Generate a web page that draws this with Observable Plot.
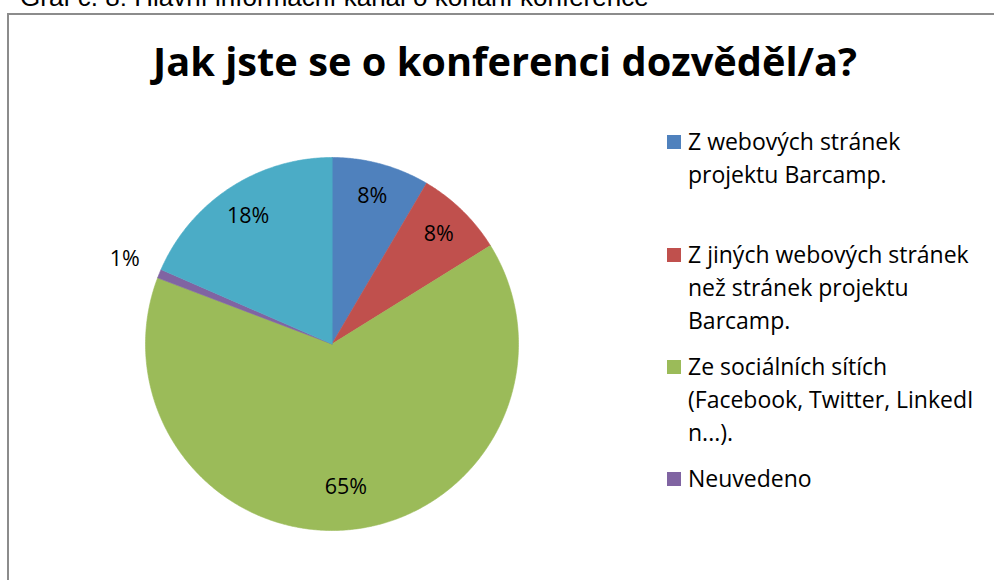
<!DOCTYPE html>
<html>
<head>
<meta charset="utf-8">
<script src="https://cdn.jsdelivr.net/npm/d3@7"></script>
<script src="https://cdn.jsdelivr.net/npm/@observablehq/plot@0.6"></script>
<style>
  html, body { margin: 0; padding: 0; background: #fff; width: 994px; height: 580px; overflow: hidden; position: relative; }
  .caption { position: absolute; left: 20px; top: -16px; font: 26px "Liberation Sans", Arial, sans-serif; line-height: 26px; color: #000; white-space: nowrap; }
  .box { position: absolute; left: 7px; top: 13px; width: 1000px; height: 600px; border-left: 2.5px solid #8c8c8c; border-top: 2.5px solid #8c8c8c; box-sizing: border-box; }
  .title { position: absolute; left: 105px; width: 800px; top: 45px; text-align: center; font-family: "Open Sans", sans-serif; font-weight: bold; font-size: 36px; line-height: 36px; color: #000; white-space: nowrap; }
  #chart { position: absolute; left: 0; top: 0; }
  .leg { position: absolute; font: 23px "Open Sans", sans-serif; line-height: 33px; color: #000; white-space: nowrap; }
  .sw { position: absolute; width: 14px; height: 14px; }
</style>
</head>
<body>
<div class="caption" id="caption"></div>
<div class="box"></div>
<div class="title" id="title"></div>
<div id="chart"></div>
<div id="legend"></div>
<script>
// ---- data ----
const captionText = "Graf č. 8: Hlavní informační kanál o konání konference";
const titleText = "Jak jste se o konferenci dozvěděl/a?";
const categories = [
  "Z webových stránek projektu Barcamp.",
  "Z jiných webových stránek než stránek projektu Barcamp.",
  "Ze sociálních sítích (Facebook, Twitter, LinkedIn...).",
  "Neuvedeno",
  "Jiné"
];
const counts = [11, 10, 84, 1, 24];
const percentLabels = ["8%", "8%", "65%", "1%", "18%"];
const colors = ["#4F81BD", "#C0504D", "#9BBB59", "#8064A2", "#4BACC6"];
const legendLines = [
  ["Z webových stránek", "projektu Barcamp."],
  ["Z jiných webových stránek", "než stránek projektu", "Barcamp."],
  ["Ze sociálních sítích", "(Facebook, Twitter, LinkedI", "n...)."],
  ["Neuvedeno"]
];

// ---- layout ----
const W = 994, H = 580, R = 186.5, CX = 331.5, CY = 343.5;

document.getElementById("caption").textContent = captionText;
const titleEl = document.getElementById("title");
titleEl.textContent = titleText;
// fit title width to the reference width (~704px)
(function fitTitle() {
  const ctx = document.createElement("canvas").getContext("2d");
  ctx.font = 'bold 100px "Open Sans"';
  const w = ctx.measureText(titleText).width;
  if (w > 0) {
    const fs = Math.min(40, Math.max(30, 100 * 704 / w));
    titleEl.style.fontSize = fs + "px";
    titleEl.style.lineHeight = fs + "px";
    titleEl.style.top = (77 - 1.069 * fs + (1.362 * fs - fs) / 2) + "px";
  }
})();

const pie = d3.pie().sort(null).value(d => d.v).startAngle(0).endAngle(2 * Math.PI);
const arcs = pie(categories.map((c, i) => ({cat: c, v: counts[i], label: percentLabels[i]})));

const pts = [];
arcs.forEach(a => {
  pts.push({cat: a.data.cat, x: 0, y: 0});
  const n = Math.max(2, Math.ceil((a.endAngle - a.startAngle) / (Math.PI / 360)) + 1);
  for (let k = 0; k < n; k++) {
    const t = a.startAngle + (a.endAngle - a.startAngle) * k / (n - 1);
    pts.push({cat: a.data.cat, x: Math.sin(t), y: Math.cos(t)});
  }
});

const labels = arcs.map(a => {
  const m = (a.startAngle + a.endAngle) / 2;
  const frac = (a.endAngle - a.startAngle) / (2 * Math.PI);
  const r = frac < 0.03 ? 1.2 : (frac > 0.5 ? 0.77 : 0.82);
  return {x: r * Math.sin(m), y: r * Math.cos(m), text: a.data.label};
});

const chart = Plot.plot({
  width: W, height: H, margin: 0,
  x: {domain: [-CX / R, (W - CX) / R], axis: null},
  y: {domain: [-(H - CY) / R, CY / R], axis: null},
  color: {domain: categories, range: colors},
  style: {fontFamily: "'Open Sans', sans-serif", background: "transparent", overflow: "visible"},
  marks: [
    Plot.line(pts, {x: "x", y: "y", z: "cat", fill: "cat", stroke: "cat", strokeWidth: 0.6, curve: "linear-closed"}),
    Plot.text(labels, {x: "x", y: "y", text: "text", fontSize: 21.5, fill: "#000"})
  ]
});
document.getElementById("chart").appendChild(chart);

// ---- legend ----
const legendCenters = [142, 255, 367, 479];
const leg = document.getElementById("legend");
legendLines.forEach((lines, i) => {
  const sw = document.createElement("div");
  sw.className = "sw";
  sw.style.left = "667px";
  sw.style.top = (legendCenters[i] - 7) + "px";
  sw.style.background = colors[i];
  leg.appendChild(sw);
  lines.forEach((ln, j) => {
    const d = document.createElement("div");
    d.className = "leg";
    d.style.left = "688px";
    d.style.top = (legendCenters[i] - 17 + j * 33) + "px";
    d.textContent = ln;
    leg.appendChild(d);
  });
});
</script>
</body>
</html>
